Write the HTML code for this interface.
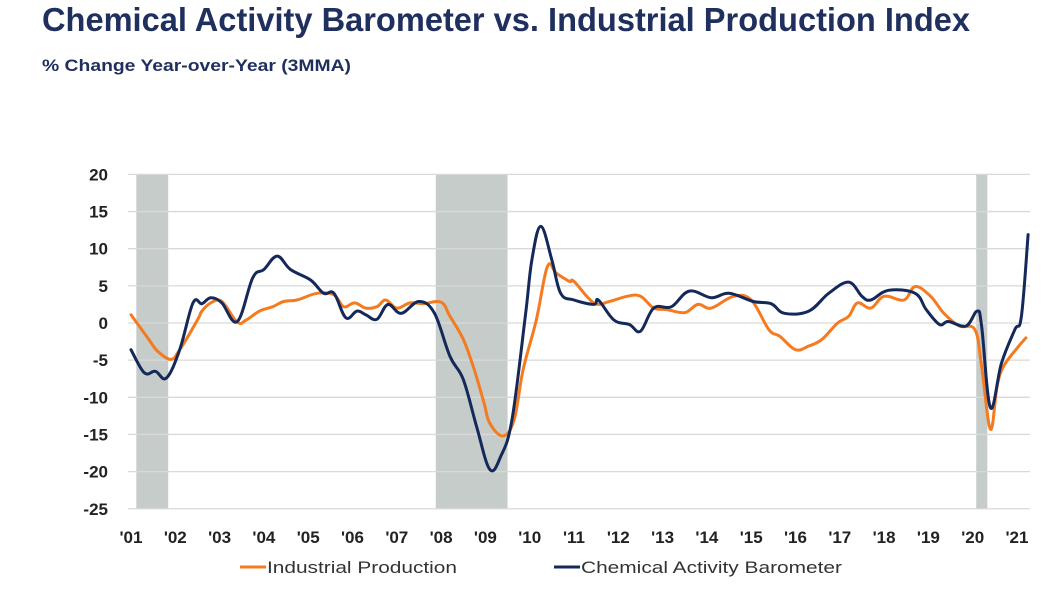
<!DOCTYPE html>
<html><head><meta charset="utf-8"><style>
html,body{margin:0;padding:0;background:#fff;}
svg text{font-family:"Liberation Sans","DejaVu Sans",sans-serif;}
</style></head><body>
<svg id="chart" width="1047" height="590" viewBox="0 0 1047 590" xmlns="http://www.w3.org/2000/svg">
<text x="42" y="31" font-size="33" font-weight="bold" fill="#1f2f5e" textLength="928" lengthAdjust="spacingAndGlyphs">Chemical Activity Barometer vs. Industrial Production Index</text>
<text x="42" y="71" font-size="17" font-weight="bold" fill="#1f2f5e" textLength="309" lengthAdjust="spacingAndGlyphs">% Change Year-over-Year (3MMA)</text>
<g id="shades"></g><g id="grid"></g><g id="yaxis"></g><g id="xaxis"></g><g id="series"></g>
<g>
<line x1="240" y1="567" x2="266" y2="567" stroke="#f47b20" stroke-width="3"/>
<text x="267" y="573" font-size="17" fill="#333" textLength="190" lengthAdjust="spacingAndGlyphs">Industrial Production</text>
<line x1="554" y1="567" x2="580" y2="567" stroke="#14295a" stroke-width="3"/>
<text x="581" y="573" font-size="17" fill="#333" textLength="261" lengthAdjust="spacingAndGlyphs">Chemical Activity Barometer</text>
</g>
</svg>
<script>
const yTicks=[20,15,10,5,0,-5,-10,-15,-20,-25];
const xTickYears=[2001,2002,2003,2004,2005,2006,2007,2008,2009,2010,2011,2012,2013,2014,2015,2016,2017,2018,2019,2020,2021];
const recessions=[[2001.12,2001.84],[2007.88,2009.5],[2020.08,2020.33]];
const ipDates=[2001.0,2001.4,2001.6,2001.9,2002.1,2002.5,2002.6,2002.8,2003.05,2003.4,2003.6,2003.9,2004.2,2004.45,2004.75,2005.2,2005.58,2005.8,2006.05,2006.3,2006.55,2006.75,2007.0,2007.3,2007.6,2008.0,2008.2,2008.5,2008.75,2008.97,2009.1,2009.4,2009.65,2009.85,2010.15,2010.4,2010.6,2010.9,2011.0,2011.45,2011.8,2012.2,2012.5,2012.8,2013.1,2013.5,2013.8,2014.1,2014.6,2015.0,2015.4,2015.65,2016.0,2016.3,2016.6,2016.95,2017.2,2017.4,2017.7,2018.0,2018.45,2018.7,2019.05,2019.35,2019.7,2020.05,2020.2,2020.4,2020.55,2020.7,2021.0,2021.2];
const ipValues=[1.1,-2.2,-3.8,-4.9,-3.6,0.4,1.6,2.7,2.9,0.1,0.4,1.6,2.2,2.9,3.1,4.0,3.8,2.2,2.7,2.0,2.2,3.1,2.0,2.7,2.6,2.8,0.9,-2.2,-6.3,-10.8,-13.5,-15.2,-13,-6.3,0.4,7.6,6.7,5.6,5.6,2.7,2.9,3.6,3.6,2.0,1.8,1.4,2.5,2.0,3.6,3.1,-0.9,-1.8,-3.6,-3.1,-2.2,0,0.9,2.7,2.0,3.6,3.1,4.9,3.6,1.3,-0.4,-0.9,-5.8,-14.3,-8.5,-5.8,-3.4,-2.0];
const cabDates=[2001.0,2001.3,2001.55,2001.8,2002.1,2002.4,2002.6,2002.8,2003.05,2003.4,2003.75,2004.0,2004.3,2004.6,2005.05,2005.35,2005.58,2005.85,2006.1,2006.3,2006.55,2006.8,2007.1,2007.5,2007.85,2008.2,2008.5,2008.8,2009.1,2009.35,2009.6,2009.9,2010.05,2010.25,2010.5,2010.7,2011.0,2011.45,2011.55,2011.9,2012.25,2012.5,2012.8,2013.2,2013.6,2014.1,2014.5,2015.05,2015.45,2015.75,2016.3,2016.75,2017.2,2017.5,2017.7,2018.1,2018.7,2018.95,2019.25,2019.45,2019.85,2020.1,2020.2,2020.4,2020.65,2020.95,2021.1,2021.25];
const cabValues=[-3.6,-6.7,-6.5,-7.4,-3.6,2.7,2.6,3.4,2.7,0.2,6.1,7.2,9.0,7.2,5.8,4.0,4.0,0.7,1.6,1.1,0.5,2.5,1.3,2.9,1.3,-4.5,-7.6,-13.9,-19.7,-17.9,-13,0.9,8.5,13.0,8.5,4.0,3.1,2.5,3.1,0.4,-0.2,-1.1,2.0,2.2,4.3,3.4,4.0,2.9,2.6,1.3,1.6,4.0,5.5,3.6,3.1,4.4,4.0,1.8,-0.2,0.2,-0.4,1.6,-0.4,-11.4,-5.4,-0.9,0.9,11.9];
const NS="http://www.w3.org/2000/svg";
const x=t=>131+(t-2001)*44.3;
const y=v=>323-v*7.43;
function mk(tag,attrs,parent){const e=document.createElementNS(NS,tag);for(const k in attrs)e.setAttribute(k,attrs[k]);document.getElementById(parent).appendChild(e);return e;}
recessions.forEach(r=>{const e=mk('rect',{x:x(r[0]),y:y(20),width:x(r[1])-x(r[0]),height:y(-25)-y(20),fill:'#c5ccc9'},'shades');

});
yTicks.forEach(v=>{const l=mk('line',{x1:128,x2:1030,y1:y(v),y2:y(v),stroke:'#d9d9d9','stroke-width':1.3},'grid');


const t=mk('text',{x:108,y:y(v)+6,'font-size':17,'font-weight':'bold','text-anchor':'end',fill:'#222'},'yaxis');t.textContent=v;

});
xTickYears.forEach(yr=>{const t=mk('text',{x:x(yr),y:543,'font-size':17,'font-weight':'bold','text-anchor':'middle',fill:'#222'},'xaxis');t.textContent="'"+String(yr).slice(2);

});
function line(d,v,c,name){
const P=d.map((t,i)=>[x(t),y(v[i])]);
let p='M'+P[0][0].toFixed(1)+','+P[0][1].toFixed(1);
for(let i=0;i<P.length-1;i++){const p0=P[Math.max(0,i-1)],p1=P[i],p2=P[i+1],p3=P[Math.min(P.length-1,i+2)];const k=0.18;
const c1=[p1[0]+(p2[0]-p0[0])*k,p1[1]+(p2[1]-p0[1])*k],c2=[p2[0]-(p3[0]-p1[0])*k,p2[1]-(p3[1]-p1[1])*k];
p+=' C'+c1[0].toFixed(1)+','+c1[1].toFixed(1)+' '+c2[0].toFixed(1)+','+c2[1].toFixed(1)+' '+p2[0].toFixed(1)+','+p2[1].toFixed(1);}
const e=mk('path',{d:p,fill:'none',stroke:c,'stroke-width':3,'stroke-linejoin':'round','stroke-linecap':'round'},'series');

}
line(ipDates,ipValues,'#f47b20','industrial-production-line');
line(cabDates,cabValues,'#14295a','chemical-activity-barometer-line');
</script>
</body></html>
